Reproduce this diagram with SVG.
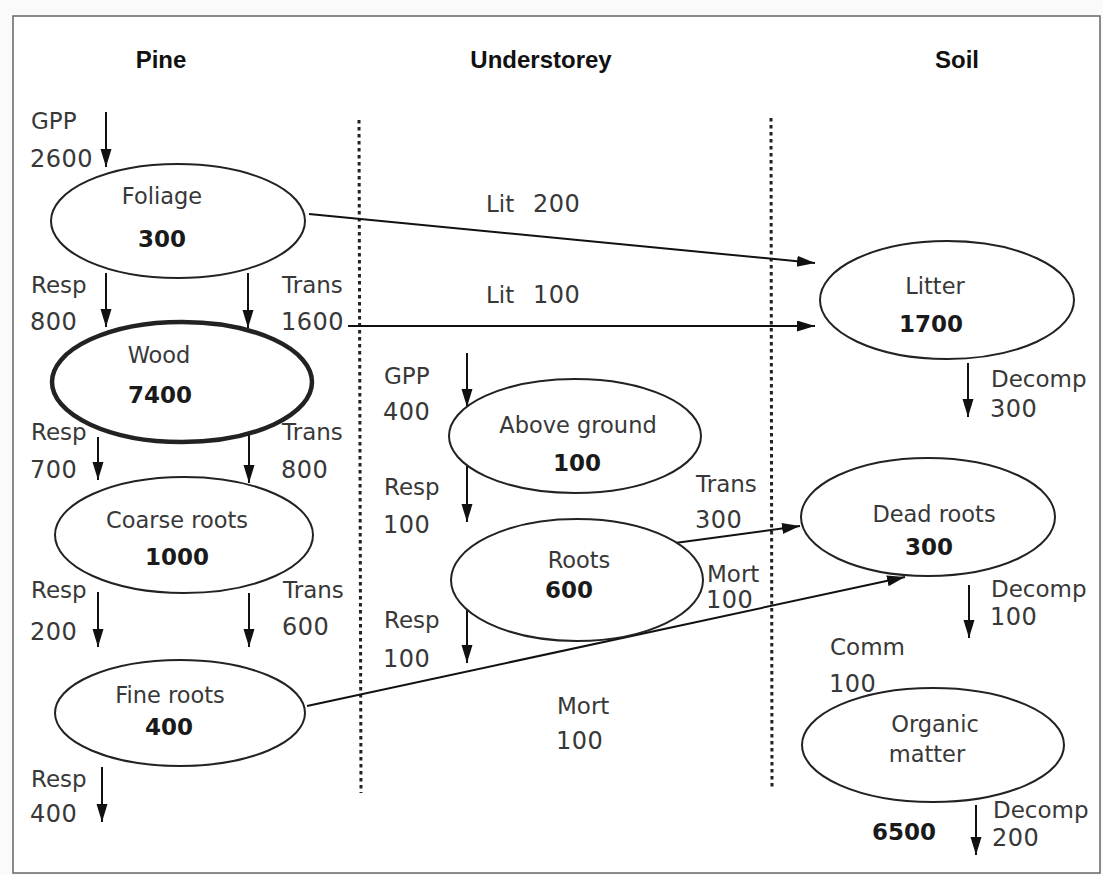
<svg xmlns="http://www.w3.org/2000/svg" width="1103" height="875" viewBox="0 0 1103 875">
  <defs>
    <marker id="head" markerUnits="userSpaceOnUse" markerWidth="20" markerHeight="12" refX="18" refY="5.5" orient="auto">
      <path d="M0,0 L18,5.5 L0,11 Z" fill="#111"/>
    </marker>
    <style>
      .frame { fill: #fff; stroke: #666; stroke-width: 1.5; }
      .lane { stroke: #222; stroke-width: 3; stroke-dasharray: 3.5 3.5; fill: none; }
      .node { fill: #fff; stroke: #222; stroke-width: 2; }
      .thick { stroke-width: 4.5; }
      .flow { stroke: #111; stroke-width: 2; fill: none; marker-end: url(#head); }
      .hdr { font-family: "Liberation Sans", Arial, sans-serif; font-weight: bold; font-size: 24px; fill: #111; text-anchor: middle; }
      .lbl { font-family: "DejaVu Sans", Verdana, sans-serif; font-size: 23px; fill: #383838; }
      .num { font-size: 24px; letter-spacing: 0.5px; }
      .name { font-family: "DejaVu Sans", Verdana, sans-serif; font-size: 22.5px; fill: #383838; text-anchor: middle; }
      .val { font-family: "DejaVu Sans", Verdana, sans-serif; font-weight: bold; font-size: 23px; fill: #1a1a1a; text-anchor: middle; }
    </style>
  </defs>

  <rect x="0" y="0" width="1103" height="875" fill="#fafafa"/>
  <rect class="frame" x="13" y="16" width="1087" height="857"/>

  <!-- column headings -->
  <g id="headings">
    <text class="hdr" x="161" y="68">Pine</text>
    <text class="hdr" x="541" y="68">Understorey</text>
    <text class="hdr" x="957" y="68">Soil</text>
  </g>

  <!-- dotted lane separators -->
  <g id="lanes">
    <line class="lane" x1="359" y1="120" x2="361" y2="793"/>
    <line class="lane" x1="771" y1="118" x2="772" y2="790"/>
  </g>

  <!-- flows -->
  <g id="connectors">
    <line class="flow" x1="106" y1="112" x2="106" y2="167"/>
    <line class="flow" x1="106" y1="273" x2="106" y2="327"/>
    <line class="flow" x1="248" y1="273" x2="248" y2="328"/>
    <line class="flow" x1="98" y1="437" x2="98" y2="480"/>
    <line class="flow" x1="249" y1="434" x2="249" y2="483"/>
    <line class="flow" x1="98" y1="592" x2="98" y2="647"/>
    <line class="flow" x1="249" y1="593" x2="249" y2="647"/>
    <line class="flow" x1="102" y1="767" x2="102" y2="822"/>
    <line class="flow" x1="467" y1="353" x2="467" y2="407"/>
    <line class="flow" x1="467" y1="463" x2="467" y2="522"/>
    <line class="flow" x1="467" y1="610" x2="467" y2="663"/>
    <line class="flow" x1="968" y1="363" x2="968" y2="417"/>
    <line class="flow" x1="969" y1="585" x2="969" y2="638"/>
    <line class="flow" x1="976" y1="805" x2="976" y2="855"/>
    <!-- litter fall from foliage and wood -->
    <line class="flow" x1="309" y1="214" x2="815" y2="263"/>
    <line class="flow" x1="348" y1="326" x2="815" y2="326"/>
    <!-- understorey roots to dead roots -->
    <line class="flow" x1="675" y1="543" x2="800" y2="526"/>
    <!-- fine root mortality -->
    <line class="flow" x1="307" y1="706" x2="905" y2="577"/>
  </g>

  <!-- pine compartments -->
  <g id="foliage">
    <ellipse class="node" cx="178" cy="221" rx="127" ry="57"/>
    <text class="name" x="162" y="204">Foliage</text>
    <text class="val" x="162" y="247">300</text>
  </g>
  <g id="wood">
    <ellipse class="node thick" cx="182" cy="382" rx="130" ry="60"/>
    <text class="name" x="159" y="363">Wood</text>
    <text class="val" x="160" y="403">7400</text>
  </g>
  <g id="coarse-roots">
    <ellipse class="node" cx="184" cy="535" rx="129" ry="58"/>
    <text class="name" x="177" y="528">Coarse roots</text>
    <text class="val" x="177" y="565">1000</text>
  </g>
  <g id="fine-roots">
    <ellipse class="node" cx="180" cy="713" rx="125" ry="53"/>
    <text class="name" x="170" y="703">Fine roots</text>
    <text class="val" x="169" y="735">400</text>
  </g>

  <!-- understorey compartments -->
  <g id="above-ground">
    <ellipse class="node" cx="575" cy="436" rx="126" ry="57"/>
    <text class="name" x="578" y="433">Above ground</text>
    <text class="val" x="577" y="471">100</text>
  </g>
  <g id="roots">
    <ellipse class="node" cx="577" cy="580" rx="126" ry="61"/>
    <text class="name" x="579" y="568">Roots</text>
    <text class="val" x="569" y="598">600</text>
  </g>

  <!-- soil compartments -->
  <g id="litter">
    <ellipse class="node" cx="947" cy="300" rx="127" ry="59"/>
    <text class="name" x="935" y="294">Litter</text>
    <text class="val" x="931" y="332">1700</text>
  </g>
  <g id="dead-roots">
    <ellipse class="node" cx="928" cy="517" rx="127" ry="59"/>
    <text class="name" x="934" y="522">Dead roots</text>
    <text class="val" x="929" y="555">300</text>
  </g>
  <g id="organic-matter">
    <ellipse class="node" cx="933" cy="745" rx="131" ry="57"/>
    <text class="name" x="935" y="732">Organic</text>
    <text class="name" x="927" y="762">matter</text>
    <text class="val" x="904" y="840">6500</text>
  </g>

  <!-- flow labels -->
  <g id="flow-labels" class="lbl">
    <text x="31" y="129">GPP</text>
    <text class="num" x="30" y="167">2600</text>
    <text x="31" y="293">Resp</text>
    <text class="num" x="30" y="330">800</text>
    <text x="282" y="293">Trans</text>
    <text class="num" x="281" y="330">1600</text>
    <text x="31" y="440">Resp</text>
    <text class="num" x="30" y="478">700</text>
    <text x="282" y="440">Trans</text>
    <text class="num" x="281" y="478">800</text>
    <text x="31" y="598">Resp</text>
    <text class="num" x="30" y="640">200</text>
    <text x="283" y="598">Trans</text>
    <text class="num" x="282" y="635">600</text>
    <text x="31" y="787">Resp</text>
    <text class="num" x="30" y="822">400</text>

    <text x="486" y="212">Lit<tspan class="num" x="533">200</tspan></text>
    <text x="486" y="303">Lit<tspan class="num" x="533">100</tspan></text>

    <text x="384" y="384">GPP</text>
    <text class="num" x="383" y="420">400</text>
    <text x="384" y="495">Resp</text>
    <text class="num" x="383" y="533">100</text>
    <text x="384" y="628">Resp</text>
    <text class="num" x="383" y="667">100</text>
    <text x="696" y="492">Trans</text>
    <text class="num" x="695" y="528">300</text>
    <text x="707" y="582">Mort</text>
    <text class="num" x="706" y="608">100</text>
    <text x="557" y="714">Mort</text>
    <text class="num" x="556" y="749">100</text>

    <text x="991" y="387">Decomp</text>
    <text class="num" x="990" y="417">300</text>
    <text x="991" y="597">Decomp</text>
    <text class="num" x="990" y="625">100</text>
    <text x="830" y="655">Comm</text>
    <text class="num" x="829" y="692">100</text>
    <text x="993" y="818">Decomp</text>
    <text class="num" x="992" y="846">200</text>
  </g>
</svg>
